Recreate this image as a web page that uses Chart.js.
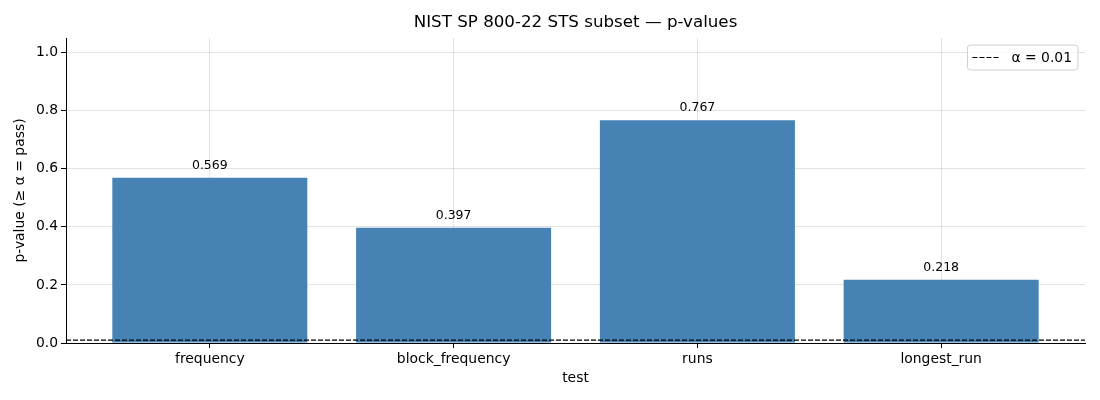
<!DOCTYPE html>
<html lang="en">
<head>
  <meta charset="UTF-8">
  <title>NIST SP 800-22 STS subset — p-values</title>
  <script src="https://cdn.jsdelivr.net/npm/chart.js"></script>
  <style>
    html, body { margin: 0; padding: 0; background: #fff; }
    #wrap { width: 1100px; height: 400px; }
  </style>
</head>
<body>
  <div id="wrap"><canvas id="stsChart"></canvas></div>

  <script>
    // data
    const tests = ["frequency", "block_frequency", "runs", "longest_run"];
    const pValues = [0.569, 0.397, 0.767, 0.218];
    const alpha = 0.01;
    const xLimits = [-0.59, 3.59];
    const yTicks = [0.0, 0.2, 0.4, 0.6, 0.8, 1.0];
    const chartTitle = "NIST SP 800-22 STS subset — p-values";

    const FONT = "'DejaVu Sans', sans-serif";
    const gridColor = "rgba(176,176,176,0.35)";

    // numbers on top of each bar
    const valueLabels = {
      id: "valueLabels",
      afterDatasetsDraw(chart) {
        const meta = chart.getDatasetMeta(0);
        const ctx = chart.ctx;
        ctx.save();
        ctx.font = "12.5px " + FONT;
        ctx.fillStyle = "#000";
        ctx.textAlign = "center";
        ctx.textBaseline = "bottom";
        meta.data.forEach((bar, i) => {
          ctx.fillText(pValues[i].toFixed(3), bar.x, bar.y - 6);
        });
        ctx.restore();
      }
    };

    // title centred over the plot area, like matplotlib does
    const axesTitle = {
      id: "axesTitle",
      afterDraw(chart) {
        const area = chart.chartArea;
        const ctx = chart.ctx;
        ctx.save();
        ctx.font = "16.7px " + FONT;
        ctx.fillStyle = "#000";
        ctx.textAlign = "center";
        ctx.textBaseline = "middle";
        ctx.fillText(chartTitle, (area.left + area.right) / 2, 23);
        ctx.restore();
      }
    };

    // matplotlib-like legend box in the upper right
    const boxLegend = {
      id: "boxLegend",
      afterDraw(chart) {
        const ds = chart.data.datasets[1];
        const area = chart.chartArea;
        const ctx = chart.ctx;
        ctx.save();
        ctx.font = "13.9px " + FONT;
        const tw = ctx.measureText(ds.label).width;
        const w = 5 + 28 + 11 + tw + 6;
        const h = 25;
        const x = area.right - 7 - w;
        const y = area.top + 7;
        ctx.beginPath();
        ctx.roundRect(x, y, w, h, 3);
        ctx.fillStyle = "rgba(255,255,255,0.8)";
        ctx.fill();
        ctx.strokeStyle = "#d0d0d0";
        ctx.lineWidth = 1;
        ctx.stroke();
        ctx.beginPath();
        ctx.setLineDash(ds.borderDash);
        ctx.strokeStyle = ds.borderColor;
        ctx.lineWidth = ds.borderWidth;
        ctx.moveTo(x + 5, y + h / 2);
        ctx.lineTo(x + 33, y + h / 2);
        ctx.stroke();
        ctx.setLineDash([]);
        ctx.fillStyle = "#000";
        ctx.textBaseline = "middle";
        ctx.fillText(ds.label, x + 44, y + h / 2 + 1);
        ctx.restore();
      }
    };

    const ctx = document.getElementById("stsChart").getContext("2d");
    new Chart(ctx, {
      type: "bar",
      data: {
        datasets: [
          {
            label: "p-value",
            data: tests.map((t, i) => ({ x: i, y: pValues[i] })),
            backgroundColor: "#4682b4",
            borderWidth: 0,
            barPercentage: 0.8,
            categoryPercentage: 1.0,
            order: 2
          },
          {
            type: "line",
            label: "α = " + alpha,
            data: xLimits.map(x => ({ x: x, y: alpha })),
            borderColor: "#000",
            borderWidth: 1.2,
            borderDash: [5, 2],
            pointRadius: 0,
            fill: false,
            order: 1
          }
        ]
      },
      options: {
        responsive: true,
        maintainAspectRatio: false,
        animation: false,
        layout: { padding: { left: 0, right: 15, top: 38, bottom: 0 } },
        plugins: {
          legend: { display: false },
          tooltip: { enabled: false },
          title: { display: false }
        },
        scales: {
          x: {
            type: "linear",
            min: xLimits[0],
            max: xLimits[1],
            offset: false,
            z: 1,
            afterBuildTicks(scale) {
              scale.ticks = tests.map((t, i) => ({ value: i }));
            },
            afterFit(scale) { scale.height = 57; },
            ticks: {
              autoSkip: false,
              maxRotation: 0,
              padding: 3,
              color: "#000",
              font: { family: FONT, size: 13.9 },
              callback: v => tests[v]
            },
            grid: {
              color: gridColor,
              tickColor: "#000",
              tickLength: 5,
              offset: false
            },
            border: { color: "#000", width: 1 },
            title: {
              display: true,
              text: "test",
              color: "#000",
              font: { family: FONT, size: 13.9 },
              padding: { top: 0, bottom: 13.5 }
            }
          },
          y: {
            min: 0,
            max: 1.05,
            z: 1,
            afterBuildTicks(scale) {
              scale.ticks = yTicks.map(v => ({ value: v }));
            },
            afterFit(scale) { scale.width = 66; },
            ticks: {
              padding: 3,
              color: "#000",
              font: { family: FONT, size: 13.9 },
              callback: v => Number(v).toFixed(1)
            },
            grid: {
              color: gridColor,
              tickColor: "#000",
              tickLength: 5
            },
            border: { color: "#000", width: 1 },
            title: {
              display: true,
              text: "p-value (≥ α = pass)",
              color: "#000",
              font: { family: FONT, size: 13.9 },
              padding: { top: 12.5, bottom: 0 }
            }
          }
        }
      },
      plugins: [valueLabels, axesTitle, boxLegend]
    });
  </script>
</body>
</html>
